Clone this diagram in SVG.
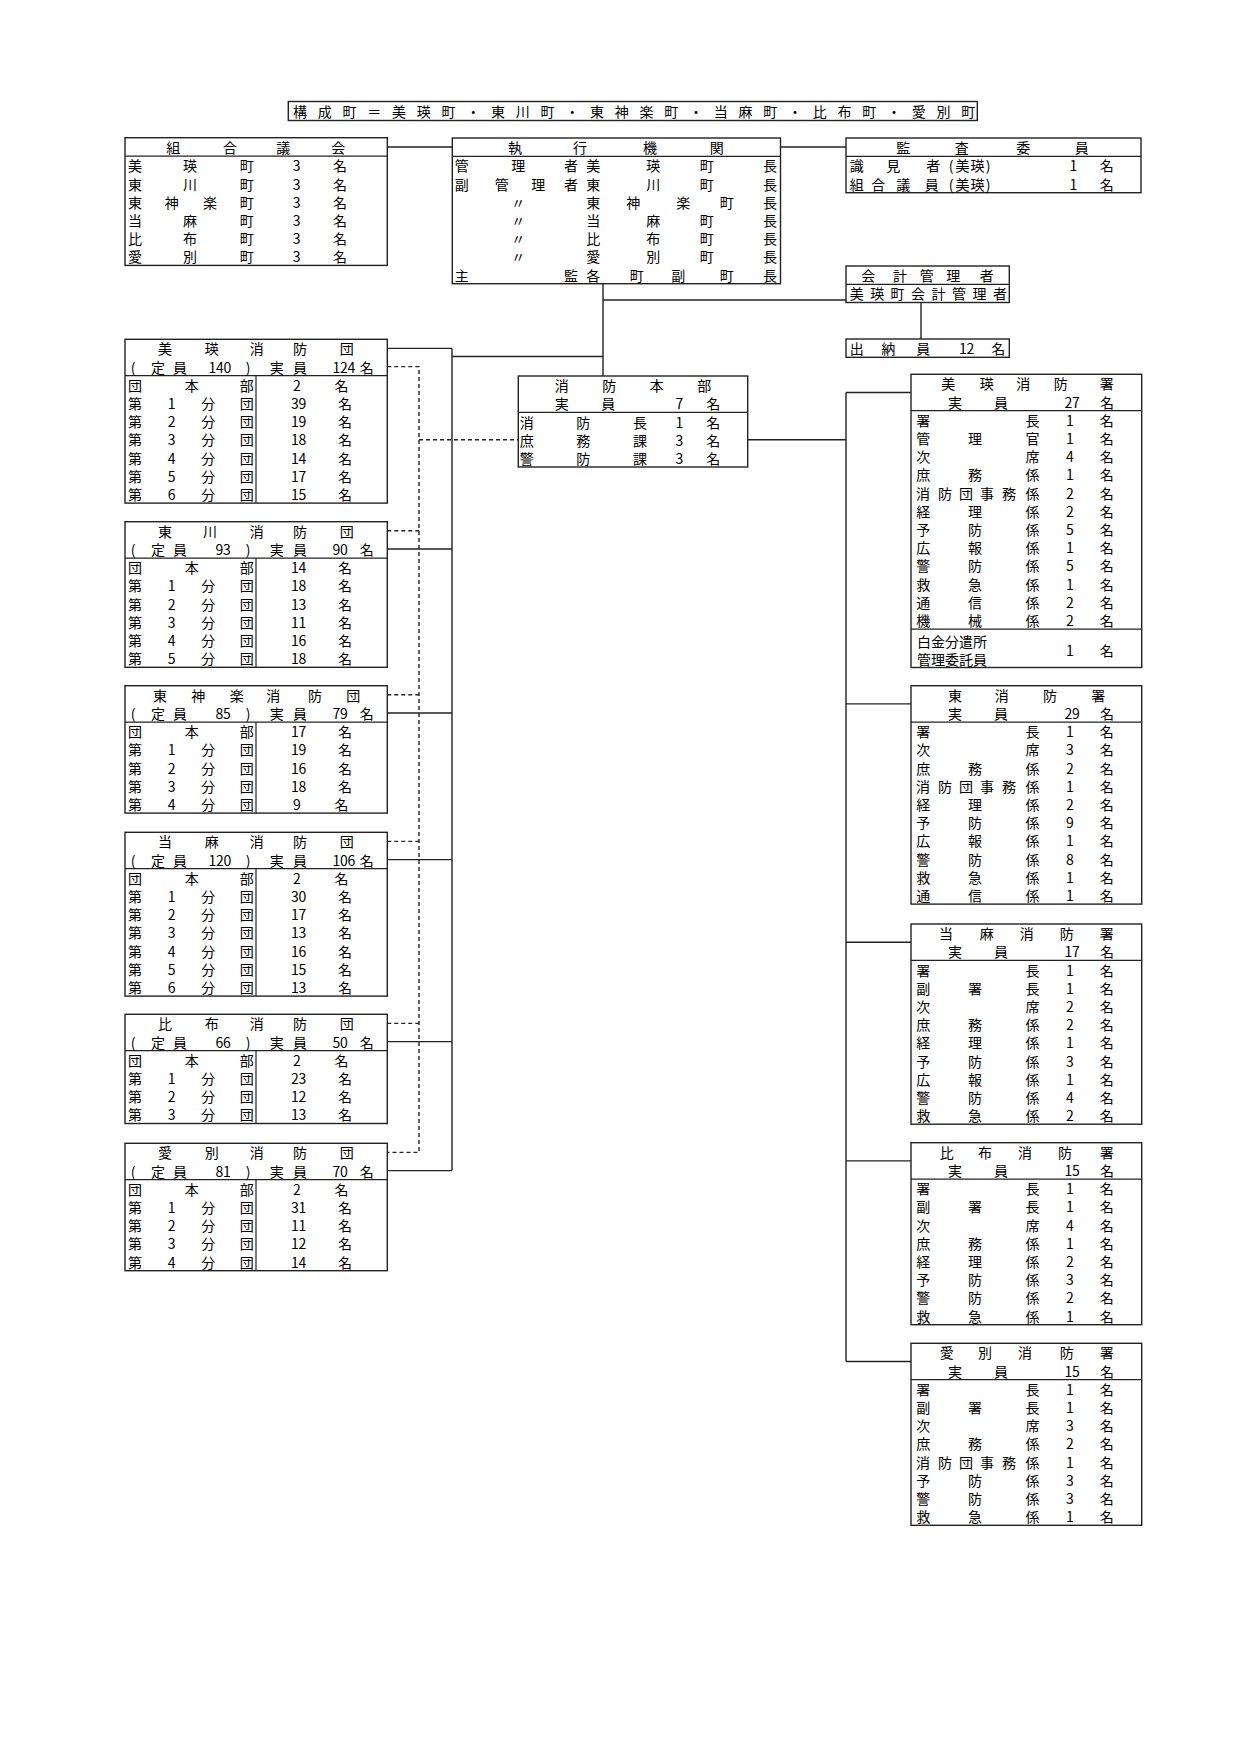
<svg xmlns="http://www.w3.org/2000/svg" width="1241" height="1755" viewBox="0 0 1241 1755">
<style>
rect.b{fill:#fff;stroke:#222;stroke-width:1.4}
line.i{stroke:#222;stroke-width:1.2}
.c path{fill:none;stroke:#222;stroke-width:1.4}
.c path.d{stroke-dasharray:4 3}
text{font-family:"Noto Sans CJK JP","Noto Sans CJK SC",sans-serif;font-size:14px;fill:#000;dominant-baseline:central;text-anchor:middle}
text.s{text-anchor:start}
</style>
<rect width="1241" height="1755" fill="#fff"/>
<g id="connectors" class="c">
<path d="M387.3 147H452.3M780.5 147H846M603 283.7V376M603 300H846M921 302.5V339M603 356.5H452"/>
<path d="M452 348.4V1170.6M387.3 348.4H452M387.3 549H452M387.3 713H452M387.3 859.6H452M387.3 1041.6H452M387.3 1170.6H452"/>
<path d="M747.7 439.7H846M846 392.5V1361.5M846 392.5H911M846 703.9H911M846 942.2H911M846 1160.9H911M846 1361.5H911"/>
<path class="d" d="M387.3 366.6H419V1152.4H387.3M387.3 530.8H419M387.3 694.8H419M387.3 841.4H419M387.3 1023.4H419M419 439.7H518.3"/>
</g>
<g id="title">
<rect class="b" x="288.3" y="101.5" width="689" height="19"/>
<text y="111" x="300 324.75 349.5 374.25 399 423.75 448.5 473.25 498 522.75 547.5 572.25 597 621.75 646.5 671.25 696 720.75 745.5 770.25 795 819.75 844.5 869.25 894 918.75 943.5 968.25">構成町＝美瑛町・東川町・東神楽町・当麻町・比布町・愛別町</text>
</g>
<g id="kumiai-gikai">
<rect class="b" x="125" y="137.7" width="262.3" height="127.7"/>
<line class="i" x1="125" y1="156.2" x2="387.3" y2="156.2"/>
<text y="147" x="173.3 230 283.3 338.3">組合議会</text>
<text y="165.3" x="135 190 246.7 296.7 340">美瑛町3名</text>
<text y="183.5" x="135 190 246.7 296.7 340">東川町3名</text>
<text y="201.7" x="135 171.7 210 246.7 296.7 340">東神楽町3名</text>
<text y="219.9" x="135 190 246.7 296.7 340">当麻町3名</text>
<text y="238.1" x="135 190 246.7 296.7 340">比布町3名</text>
<text y="256.3" x="135 190 246.7 296.7 340">愛別町3名</text>
</g>
<g id="shikko-kikan">
<rect class="b" x="452.3" y="138" width="328.2" height="145.7"/>
<line class="i" x1="452.3" y1="156.3" x2="780.5" y2="156.3"/>
<text y="147" x="515 580 650 716.7">執行機関</text>
<text y="165.4" x="461.7 518.3 571 593.3 653.3 706.7 770">管理者美瑛町長</text>
<text y="183.6" x="461.7 501.7 538.3 571 593.3 653.3 706.7 770">副管理者東川町長</text>
<text y="201.8" x="518.3 593.3 633.3 683.3 726.7 770">〃東神楽町長</text>
<text y="220" x="518.3 593.3 653.3 706.7 770">〃当麻町長</text>
<text y="238.2" x="518.3 593.3 653.3 706.7 770">〃比布町長</text>
<text y="256.4" x="518.3 593.3 653.3 706.7 770">〃愛別町長</text>
<text y="274.6" x="461.7 571 593.3 636.7 678.3 726.7 770">主監各町副町長</text>
</g>
<g id="kansa-iin">
<rect class="b" x="846" y="138" width="295" height="54.7"/>
<line class="i" x1="846" y1="156.3" x2="1141" y2="156.3"/>
<text y="147" x="903.3 961.7 1023.3 1081.7">監査委員</text>
<text y="165.4" x="856.7 893.3 933.3 951 962.5 977.5 988 1073.3 1106.7">識見者(美瑛)1名</text>
<text y="183.6" x="856.7 878.3 903.3 931.7 951 962.5 977.5 988 1073.3 1106.7">組合議員(美瑛)1名</text>
</g>
<g id="kaikei-kanrisha">
<rect class="b" x="846" y="266" width="163.3" height="36.5"/>
<line class="i" x1="846" y1="284.3" x2="1009.3" y2="284.3"/>
<text y="275.2" x="868.3 900 926.7 953.3 986.7">会計管理者</text>
<text y="293.4" x="856.7 877.2 897.6 918.1 938.6 959.1 979.5 1000">美瑛町会計管理者</text>
</g>
<g id="suitoin">
<rect class="b" x="846" y="339" width="163.3" height="18.3"/>
<text y="348.2" x="856.7 888.3 923.3 963 970.5 998.3">出納員12名</text>
</g>
<g id="shobo-honbu">
<rect class="b" x="518.3" y="376" width="229.4" height="91"/>
<line class="i" x1="518.3" y1="412.4" x2="747.7" y2="412.4"/>
<text y="385.1" x="561.7 609.3 656.7 704.3">消防本部</text>
<text y="403.3" x="561.7 608.3 679.3 713.3">実員7名</text>
<text y="421.5" x="526.7 583.3 640 679.3 713.3">消防長1名</text>
<text y="439.7" x="526.7 583.3 640 679.3 713.3">庶務課3名</text>
<text y="457.9" x="526.7 583.3 640 679.3 713.3">警防課3名</text>
</g>
<g id="biei-shobodan">
<rect class="b" x="125" y="339.3" width="262.3" height="163.8"/>
<line class="i" x1="125" y1="375.7" x2="387.3" y2="375.7"/>
<line class="i" x1="256" y1="375.7" x2="256" y2="503.1"/>
<text y="348.4" x="165 211.7 256.7 300 346.7">美瑛消防団</text>
<text y="366.6" x="133 158 180 212.5 220 227.5 248 276.7 300 336.5 344 351.5 366.7">(定員140)実員124名</text>
<text y="384.8" x="135 191.7 246.7 297 341.5">団本部2名</text>
<text y="403" x="135 171.7 208.3 246.7 294.8 302.3 345">第1分団39名</text>
<text y="421.2" x="135 171.7 208.3 246.7 294.8 302.3 345">第2分団19名</text>
<text y="439.4" x="135 171.7 208.3 246.7 294.8 302.3 345">第3分団18名</text>
<text y="457.6" x="135 171.7 208.3 246.7 294.8 302.3 345">第4分団14名</text>
<text y="475.8" x="135 171.7 208.3 246.7 294.8 302.3 345">第5分団17名</text>
<text y="494" x="135 171.7 208.3 246.7 294.8 302.3 345">第6分団15名</text>
</g>
<g id="higashikawa-shobodan">
<rect class="b" x="125" y="521.7" width="262.3" height="145.6"/>
<line class="i" x1="125" y1="558.1" x2="387.3" y2="558.1"/>
<line class="i" x1="256" y1="558.1" x2="256" y2="667.3"/>
<text y="530.8" x="165 210 256.7 300 346.7">東川消防団</text>
<text y="549" x="133 158 180 219.5 227 248 276.7 300 336.5 344 366.7">(定員93)実員90名</text>
<text y="567.2" x="135 191.7 246.7 294.8 302.3 345">団本部14名</text>
<text y="585.4" x="135 171.7 208.3 246.7 294.8 302.3 345">第1分団18名</text>
<text y="603.6" x="135 171.7 208.3 246.7 294.8 302.3 345">第2分団13名</text>
<text y="621.8" x="135 171.7 208.3 246.7 294.8 302.3 345">第3分団11名</text>
<text y="640" x="135 171.7 208.3 246.7 294.8 302.3 345">第4分団16名</text>
<text y="658.2" x="135 171.7 208.3 246.7 294.8 302.3 345">第5分団18名</text>
</g>
<g id="higashikagura-shobodan">
<rect class="b" x="125" y="685.7" width="262.3" height="127.4"/>
<line class="i" x1="125" y1="722.1" x2="387.3" y2="722.1"/>
<line class="i" x1="256" y1="722.1" x2="256" y2="813.1"/>
<text y="694.8" x="160 198.3 236.7 273.3 315 353.3">東神楽消防団</text>
<text y="713" x="133 158 180 219.5 227 248 276.7 300 336.5 344 366.7">(定員85)実員79名</text>
<text y="731.2" x="135 191.7 246.7 294.8 302.3 345">団本部17名</text>
<text y="749.4" x="135 171.7 208.3 246.7 294.8 302.3 345">第1分団19名</text>
<text y="767.6" x="135 171.7 208.3 246.7 294.8 302.3 345">第2分団16名</text>
<text y="785.8" x="135 171.7 208.3 246.7 294.8 302.3 345">第3分団18名</text>
<text y="804" x="135 171.7 208.3 246.7 297 341.5">第4分団9名</text>
</g>
<g id="toma-shobodan">
<rect class="b" x="125" y="832.3" width="262.3" height="163.8"/>
<line class="i" x1="125" y1="868.7" x2="387.3" y2="868.7"/>
<line class="i" x1="256" y1="868.7" x2="256" y2="996.1"/>
<text y="841.4" x="165 211.7 256.7 300 346.7">当麻消防団</text>
<text y="859.6" x="133 158 180 212.5 220 227.5 248 276.7 300 336.5 344 351.5 366.7">(定員120)実員106名</text>
<text y="877.8" x="135 191.7 246.7 297 341.5">団本部2名</text>
<text y="896" x="135 171.7 208.3 246.7 294.8 302.3 345">第1分団30名</text>
<text y="914.2" x="135 171.7 208.3 246.7 294.8 302.3 345">第2分団17名</text>
<text y="932.4" x="135 171.7 208.3 246.7 294.8 302.3 345">第3分団13名</text>
<text y="950.6" x="135 171.7 208.3 246.7 294.8 302.3 345">第4分団16名</text>
<text y="968.8" x="135 171.7 208.3 246.7 294.8 302.3 345">第5分団15名</text>
<text y="987" x="135 171.7 208.3 246.7 294.8 302.3 345">第6分団13名</text>
</g>
<g id="pippu-shobodan">
<rect class="b" x="125" y="1014.3" width="262.3" height="109.2"/>
<line class="i" x1="125" y1="1050.7" x2="387.3" y2="1050.7"/>
<line class="i" x1="256" y1="1050.7" x2="256" y2="1123.5"/>
<text y="1023.4" x="165 211.7 256.7 300 346.7">比布消防団</text>
<text y="1041.6" x="133 158 180 219.5 227 248 276.7 300 336.5 344 366.7">(定員66)実員50名</text>
<text y="1059.8" x="135 191.7 246.7 297 341.5">団本部2名</text>
<text y="1078" x="135 171.7 208.3 246.7 294.8 302.3 345">第1分団23名</text>
<text y="1096.2" x="135 171.7 208.3 246.7 294.8 302.3 345">第2分団12名</text>
<text y="1114.4" x="135 171.7 208.3 246.7 294.8 302.3 345">第3分団13名</text>
</g>
<g id="aibetsu-shobodan">
<rect class="b" x="125" y="1143.3" width="262.3" height="127.4"/>
<line class="i" x1="125" y1="1179.7" x2="387.3" y2="1179.7"/>
<line class="i" x1="256" y1="1179.7" x2="256" y2="1270.7"/>
<text y="1152.4" x="165 211.7 256.7 300 346.7">愛別消防団</text>
<text y="1170.6" x="133 158 180 219.5 227 248 276.7 300 336.5 344 366.7">(定員81)実員70名</text>
<text y="1188.8" x="135 191.7 246.7 297 341.5">団本部2名</text>
<text y="1207" x="135 171.7 208.3 246.7 294.8 302.3 345">第1分団31名</text>
<text y="1225.2" x="135 171.7 208.3 246.7 294.8 302.3 345">第2分団11名</text>
<text y="1243.4" x="135 171.7 208.3 246.7 294.8 302.3 345">第3分団12名</text>
<text y="1261.6" x="135 171.7 208.3 246.7 294.8 302.3 345">第4分団14名</text>
</g>
<g id="biei-shobosho">
<rect class="b" x="911" y="374.3" width="230.7" height="293.2"/>
<line class="i" x1="911" y1="410.7" x2="1141.7" y2="410.7"/>
<line class="i" x1="911" y1="629.1" x2="1141.7" y2="629.1"/>
<text y="383.4" x="948.3 986.7 1023.3 1060.7 1106.7">美瑛消防署</text>
<text y="401.6" x="955 1001 1068.5 1076 1107">実員27名</text>
<text y="419.8" x="923.3 1032.5 1070 1106.7">署長1名</text>
<text y="438" x="923.3 975 1032.5 1070 1106.7">管理官1名</text>
<text y="456.2" x="923.3 1032.5 1070 1106.7">次席4名</text>
<text y="474.4" x="923.3 975 1032.5 1070 1106.7">庶務係1名</text>
<text y="492.6" x="923 945 966 987 1009 1032.5 1070 1106.7">消防団事務係2名</text>
<text y="510.8" x="923.3 975 1032.5 1070 1106.7">経理係2名</text>
<text y="529" x="923.3 975 1032.5 1070 1106.7">予防係5名</text>
<text y="547.2" x="923.3 975 1032.5 1070 1106.7">広報係1名</text>
<text y="565.4" x="923.3 975 1032.5 1070 1106.7">警防係5名</text>
<text y="583.6" x="923.3 975 1032.5 1070 1106.7">救急係1名</text>
<text y="601.8" x="923.3 975 1032.5 1070 1106.7">通信係2名</text>
<text y="620" x="923.3 975 1032.5 1070 1106.7">機械係2名</text>
<text class="s" x="917" y="640.8">白金分遣所</text>
<text class="s" x="917" y="659.1">管理委託員</text>
<text y="650" x="1070 1106.7">1名</text>
</g>
<g id="higashi-shobosho">
<rect class="b" x="911" y="685.7" width="230.7" height="218.4"/>
<line class="i" x1="911" y1="722.1" x2="1141.7" y2="722.1"/>
<text y="694.8" x="955 1001.7 1050 1098.3">東消防署</text>
<text y="713" x="955 1001 1068.5 1076 1107">実員29名</text>
<text y="731.2" x="923.3 1032.5 1070 1106.7">署長1名</text>
<text y="749.4" x="923.3 1032.5 1070 1106.7">次席3名</text>
<text y="767.6" x="923.3 975 1032.5 1070 1106.7">庶務係2名</text>
<text y="785.8" x="923 945 966 987 1009 1032.5 1070 1106.7">消防団事務係1名</text>
<text y="804" x="923.3 975 1032.5 1070 1106.7">経理係2名</text>
<text y="822.2" x="923.3 975 1032.5 1070 1106.7">予防係9名</text>
<text y="840.4" x="923.3 975 1032.5 1070 1106.7">広報係1名</text>
<text y="858.6" x="923.3 975 1032.5 1070 1106.7">警防係8名</text>
<text y="876.8" x="923.3 975 1032.5 1070 1106.7">救急係1名</text>
<text y="895" x="923.3 975 1032.5 1070 1106.7">通信係1名</text>
</g>
<g id="toma-shobosho">
<rect class="b" x="911" y="924" width="230.7" height="200.2"/>
<line class="i" x1="911" y1="960.4" x2="1141.7" y2="960.4"/>
<text y="933.1" x="946 986.7 1026.7 1066.7 1106.7">当麻消防署</text>
<text y="951.3" x="955 1001 1068.5 1076 1107">実員17名</text>
<text y="969.5" x="923.3 1032.5 1070 1106.7">署長1名</text>
<text y="987.7" x="923.3 975 1032.5 1070 1106.7">副署長1名</text>
<text y="1005.9" x="923.3 1032.5 1070 1106.7">次席2名</text>
<text y="1024.1" x="923.3 975 1032.5 1070 1106.7">庶務係2名</text>
<text y="1042.3" x="923.3 975 1032.5 1070 1106.7">経理係1名</text>
<text y="1060.5" x="923.3 975 1032.5 1070 1106.7">予防係3名</text>
<text y="1078.7" x="923.3 975 1032.5 1070 1106.7">広報係1名</text>
<text y="1096.9" x="923.3 975 1032.5 1070 1106.7">警防係4名</text>
<text y="1115.1" x="923.3 975 1032.5 1070 1106.7">救急係2名</text>
</g>
<g id="pippu-shobosho">
<rect class="b" x="911" y="1142.7" width="230.7" height="182"/>
<line class="i" x1="911" y1="1179.1" x2="1141.7" y2="1179.1"/>
<text y="1151.8" x="946.7 985 1025 1065 1106.7">比布消防署</text>
<text y="1170" x="955 1001 1068.5 1076 1107">実員15名</text>
<text y="1188.2" x="923.3 1032.5 1070 1106.7">署長1名</text>
<text y="1206.4" x="923.3 975 1032.5 1070 1106.7">副署長1名</text>
<text y="1224.6" x="923.3 1032.5 1070 1106.7">次席4名</text>
<text y="1242.8" x="923.3 975 1032.5 1070 1106.7">庶務係1名</text>
<text y="1261" x="923.3 975 1032.5 1070 1106.7">経理係2名</text>
<text y="1279.2" x="923.3 975 1032.5 1070 1106.7">予防係3名</text>
<text y="1297.4" x="923.3 975 1032.5 1070 1106.7">警防係2名</text>
<text y="1315.6" x="923.3 975 1032.5 1070 1106.7">救急係1名</text>
</g>
<g id="aibetsu-shobosho">
<rect class="b" x="911" y="1343.3" width="230.7" height="182"/>
<line class="i" x1="911" y1="1379.7" x2="1141.7" y2="1379.7"/>
<text y="1352.4" x="946.7 985 1025 1066.7 1106.7">愛別消防署</text>
<text y="1370.6" x="955 1001 1068.5 1076 1107">実員15名</text>
<text y="1388.8" x="923.3 1032.5 1070 1106.7">署長1名</text>
<text y="1407" x="923.3 975 1032.5 1070 1106.7">副署長1名</text>
<text y="1425.2" x="923.3 1032.5 1070 1106.7">次席3名</text>
<text y="1443.4" x="923.3 975 1032.5 1070 1106.7">庶務係2名</text>
<text y="1461.6" x="923 945 966 987 1009 1032.5 1070 1106.7">消防団事務係1名</text>
<text y="1479.8" x="923.3 975 1032.5 1070 1106.7">予防係3名</text>
<text y="1498" x="923.3 975 1032.5 1070 1106.7">警防係3名</text>
<text y="1516.2" x="923.3 975 1032.5 1070 1106.7">救急係1名</text>
</g>
</svg>
